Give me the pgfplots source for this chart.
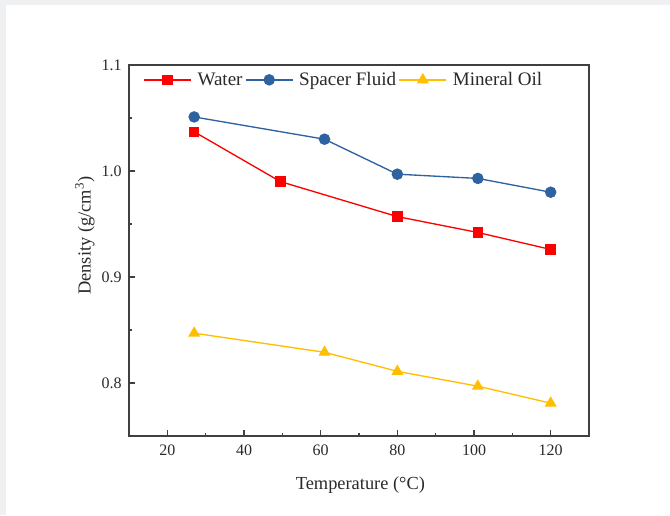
\documentclass[border=0pt]{standalone}
\usepackage{fontspec}
\setmainfont{Liberation Serif}
\usepackage{pgfplots}
\pgfplotsset{compat=1.18}
\definecolor{cWater}{HTML}{FF0000}
\definecolor{cSpacer}{HTML}{2E62A0}
\definecolor{cOil}{HTML}{FFBF00}
\definecolor{frame}{HTML}{EFF0F2}
\definecolor{txt}{HTML}{2A2A2A}
\begin{document}
\begin{tikzpicture}
% page background with thin grey band on top and left
\fill[frame] (0,0) rectangle (502.5pt,386.25pt);
\fill[white] (4.5pt,0) rectangle (502.5pt,382.5pt);
\useasboundingbox (0,0) rectangle (502.5pt,386.25pt);
\begin{axis}[
  at={(96.75pt,59.25pt)},
  anchor=south west,
  scale only axis,
  width=345pt,
  height=278.25pt,
  xmin=10, xmax=130,
  ymin=0.75, ymax=1.1,
  xtick={20,40,...,120},
  ytick={0.8,0.9,1.0,1.1},
  minor x tick num=1,
  minor y tick num=1,
  tick align=inside,
  xtick pos=bottom,
  ytick pos=left,
  major tick length=4.5pt,
  minor tick length=2.5pt,
  axis line style={draw=black!75, line width=1.1pt},
  every tick/.style={black!75, line width=0.9pt},
  /pgf/number format/assume math mode=true,
  y tick label style={/pgf/number format/fixed, /pgf/number format/fixed zerofill, /pgf/number format/precision=1},
  tick label style={font=\rmfamily\fontsize{12}{14}\selectfont, text=txt},
  xticklabel style={yshift=-3pt},
  yticklabel style={xshift=-2pt},
  xlabel={Temperature (°C)},
  ylabel={Density (g/cm\textsuperscript{3})},
  label style={font=\rmfamily\fontsize{13.8}{16}\selectfont, text=txt},
  x label style={at={(axis description cs:0.503,-0.132)}, anchor=center},
  y label style={at={(axis description cs:-0.096,0.54)}, anchor=center},
  legend style={draw=none, fill=none, at={(0.031,0.96)}, anchor=west,
    font=\rmfamily\fontsize{14.3}{16}\selectfont, text=txt, inner xsep=0pt,
    /tikz/every even column/.append style={column sep=0pt},
    /tikz/every odd column/.append style={column sep=2.5pt}},
  legend columns=-1,
  legend cell align=left,
  legend image code/.code={
    \draw[mark repeat=2, mark phase=2, #1] plot coordinates {(0pt,0pt) (17.5pt,0pt) (35pt,0pt)};
  },
  every axis plot/.append style={line width=1pt},
]
\addplot[color=cWater, mark=square*, mark size=3.4pt] coordinates {
  (27, 1.037)
  (49.5, 0.990)
  (80, 0.957)
  (101, 0.942)
  (120, 0.926)
};
\addlegendentry{Water}
\addplot[color=cSpacer, mark=*, mark size=3.8pt] coordinates {
  (27, 1.051)
  (61, 1.030)
  (80, 0.997)
  (101, 0.993)
  (120, 0.980)
};
\addlegendentry{Spacer Fluid}
\addplot[color=cOil, mark=triangle*, mark size=4.2pt] coordinates {
  (27, 0.847)
  (61, 0.829)
  (80, 0.811)
  (101, 0.797)
  (120, 0.781)
};
\addlegendentry{Mineral Oil}
\end{axis}
\end{tikzpicture}
\end{document}
